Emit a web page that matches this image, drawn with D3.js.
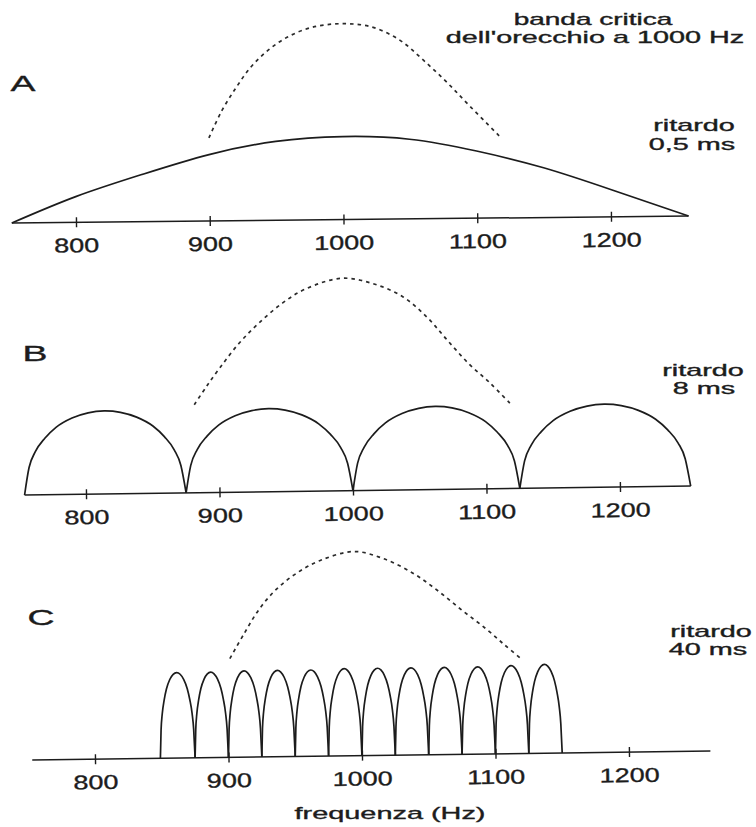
<!DOCTYPE html>
<html><head><meta charset="utf-8">
<script src="https://cdn.jsdelivr.net/npm/d3@7"></script>
<style>
body{margin:0;background:#fff}
svg{display:block}
text{font-family:"Liberation Sans",Arial,Helvetica,sans-serif;fill:#1c1c1c;stroke:#1c1c1c;stroke-width:0.35px}
</style>
</head><body>
<svg id="chart" width="756" height="827"></svg>
<script>
// ---------- data ----------
const tickValues = [800, 900, 1000, 1100, 1200];
const panelLabels = ["A", "B", "C"];
const delayLabels = ["0,5 ms", "8 ms", "40 ms"];
const delayTitle = "ritardo";
const bandTitle = ["banda critica", "dell'orecchio a 1000 Hz"];
const xTitle = "frequenza (Hz)";

// axis extents (Hz)
const axisExtentA = [752, 1258];
const axisExtentB = [754, 1253];
const axisExtentC = [753, 1261];

// panel A: single broad response (Hz, relative amplitude)
const curveA = [[752,0],[800,0.31],[850,0.57],[900,0.80],[950,0.95],[1000,1.0],[1050,0.96],[1100,0.81],[1150,0.6],[1200,0.33],[1258,0]];

// panel B: comb lobes, dips (Hz) and lobe peak heights
const dipsB = [754, 875, 1000, 1125, 1253];
const peaksB = [1.0, 1.0, 1.0, 1.0];

// panel C: comb lobes
const dipsC = [849, 875, 900, 925, 950, 975, 1000, 1025, 1050, 1075, 1100, 1125, 1150];
const peaksC = [1.03, 1.03, 1.04, 1.04, 1.04, 1.05, 1.05, 1.05, 1.05, 1.05, 1.06, 1.07];

// shape of one lobe (fraction of lobe width, fraction of peak)
const lobeProfile = [[0,0],[0.03,0.33],[0.07,0.52],[0.13,0.68],[0.2,0.81],[0.3,0.92],[0.4,0.98],[0.5,1],[0.6,0.98],[0.7,0.92],[0.8,0.81],[0.87,0.68],[0.93,0.52],[0.97,0.33],[1,0]];

// dashed critical-band curves (Hz, relative amplitude)
const bandA = [[900,1.0],[910,1.33],[921,1.61],[932,1.85],[945,2.05],[960,2.21],[978,2.32],[1000,2.36],[1022,2.32],[1043,2.16],[1061,1.91],[1079,1.63],[1096,1.34],[1117,0.99]];
const bandB = [[882,1.06],[891,1.27],[902,1.51],[916,1.79],[931,2.03],[949,2.27],[967,2.44],[994,2.56],[1017,2.49],[1039,2.33],[1057,2.08],[1072,1.80],[1088,1.51],[1104,1.27],[1120,1.0]];
const bandC = [[902,1.19],[913,1.49],[924,1.77],[937,2.01],[953,2.21],[971,2.36],[996,2.46],[1018,2.37],[1040,2.19],[1058,1.98],[1076,1.74],[1094,1.51],[1108,1.31],[1121,1.13]];

// ---------- drawing ----------
const svg = d3.select("#chart");
const INK = "#1c1c1c";

const panels = [
  {label: panelLabels[0], delay: delayLabels[0], ext: axisExtentA, range: [76, 611], axisY: 223, angle: -0.59,
   curves: [curveA], dips: null, peaks: null, band: bandA,
   letter: [23, 91], rit: [694, 131], del: [692, 150]},
  {label: panelLabels[1], delay: delayLabels[1], ext: axisExtentB, range: [86, 620], axisY: 495, angle: -0.77,
   curves: [], dips: dipsB, peaks: peaksB, band: bandB,
   letter: [35, 361], rit: [703, 376], del: [704, 394]},
  {label: panelLabels[2], delay: delayLabels[2], ext: axisExtentC, range: [95, 629], axisY: 760, angle: -0.76,
   curves: [], dips: dipsC, peaks: peaksC, band: bandC,
   letter: [41, 625], rit: [711, 637], del: [708, 655]}
];

function stretchText(parent, s, x, y, size, sx, anchor) {
  return parent.append("text")
    .attr("transform", `translate(${x},${y}) scale(${sx},1)`)
    .attr("text-anchor", anchor || "middle")
    .style("font-size", size + "px")
    .text(s);
}

panels.forEach(p => {
  const xs = d3.scaleLinear().domain([800, 1200]).range(p.range);
  const ys = d3.scaleLinear().domain([0, 1]).range([p.axisY, p.axisY - 83]);
  const x0 = xs(p.ext[0]);
  const g = svg.append("g").attr("transform", `rotate(${p.angle},${x0},${p.axisY})`);

  const line = d3.line().x(d => xs(d[0])).y(d => ys(d[1]));

  // axis line
  g.append("line")
    .attr("x1", xs(p.ext[0])).attr("x2", xs(p.ext[1]))
    .attr("y1", p.axisY).attr("y2", p.axisY)
    .attr("stroke", INK).attr("stroke-width", 1.5);

  // axis ticks + labels through d3 axis
  const axis = d3.axisBottom(xs).tickValues(tickValues).tickSize(0).tickPadding(0).tickFormat(d3.format("d"));
  const ag = g.append("g").attr("transform", `translate(0,${p.axisY})`).call(axis);
  ag.select(".domain").remove();
  ag.selectAll(".tick").append("line")
    .attr("y1", -5).attr("y2", 5).attr("stroke", INK).attr("stroke-width", 1.4);
  ag.selectAll(".tick text")
    .attr("y", 0).attr("dy", 0)
    .attr("transform", "translate(0,30) scale(1.35,1)")
    .style("font-size", "20px").style("font-family", '"Liberation Sans",Arial,sans-serif')
    .attr("fill", INK).attr("stroke", INK).attr("stroke-width", 0.35);

  // solid response curves
  p.curves.forEach(c => {
    g.append("path").datum(c)
      .attr("d", line.curve(d3.curveNatural))
      .attr("fill", "none").attr("stroke", INK).attr("stroke-width", 1.7);
  });

  // comb lobes
  if (p.dips) {
    p.peaks.forEach((h, i) => {
      const f0 = p.dips[i], f1 = p.dips[i + 1];
      const pts = lobeProfile.map(([t, v]) => [f0 + t * (f1 - f0), v * h]);
      g.append("path").datum(pts)
        .attr("d", line.curve(d3.curveMonotoneX))
        .attr("fill", "none").attr("stroke", INK).attr("stroke-width", 1.7)
        .attr("stroke-linejoin", "round");
    });
  }

  // dashed critical band
  g.append("path").datum(p.band)
    .attr("d", line.curve(d3.curveCatmullRom))
    .attr("fill", "none").attr("stroke", "#2a2a2a").attr("stroke-width", 1.7)
    .attr("stroke-dasharray", "3.5,4");

  // panel letter and delay annotation (unrotated)
  stretchText(svg, p.label, p.letter[0], p.letter[1], 22, 1.7, "middle");
  stretchText(svg, delayTitle, p.rit[0], p.rit[1], 16, 1.8, "middle");
  stretchText(svg, p.delay, p.del[0], p.del[1], 16, 1.8, "middle");
});

// band title
stretchText(svg, bandTitle[0], 593, 25, 16, 1.75, "middle");
stretchText(svg, bandTitle[1], 595, 43, 16, 1.8, "middle");
// x axis title
stretchText(svg, xTitle, 390, 819, 17, 1.7, "middle");
</script>
</body></html>
